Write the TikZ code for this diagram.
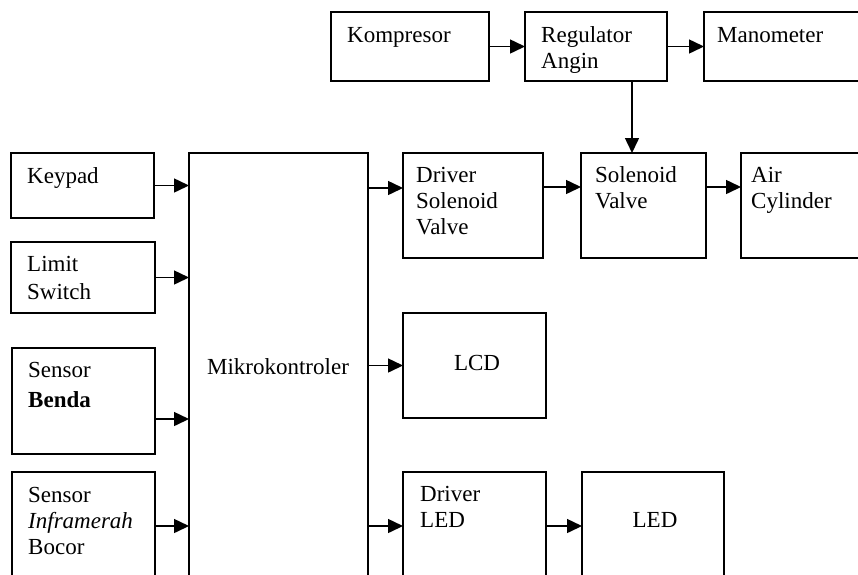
\documentclass[tikz,border=0pt]{standalone}
\usepackage{fontspec}
\setmainfont{Liberation Serif}
\usetikzlibrary{arrows.meta}
\tikzset{
  blk/.style={draw=black, line width=1.4pt, inner sep=0pt, outer sep=0pt, anchor=north west},
  lbl/.style={anchor=base west, align=left, inner sep=0pt, font={\fontsize{23}{26}\selectfont}},
  clbl/.style={anchor=center, inner sep=0pt, font={\fontsize{23}{26}\selectfont}},
  arr/.style={line width=1.5pt, -{Triangle[length=15pt,width=14pt]}}
}
\newcommand{\blkbox}[5]{\node[blk, minimum width=#4pt-#2pt, minimum height=#5pt-#3pt] (#1) at (#2,#3) {};}
\begin{document}
\begin{tikzpicture}[x=1pt,y=-1pt]
\useasboundingbox (0,0) rectangle (858,574);
\clip (0,0) rectangle (858,574);
% boxes
\blkbox{komp}{331}{12}{489}{81}
\blkbox{reg}{525}{12}{667}{81}
\blkbox{mano}{704}{12}{890}{81}
\blkbox{kp}{11}{153}{154}{218}
\blkbox{lim}{11}{242}{155}{313}
\blkbox{ben}{12}{348}{155}{454}
\blkbox{inf}{12}{472}{155}{620}
\blkbox{mk}{189}{153}{368}{620}
\blkbox{dsv}{403}{153}{543}{258}
\blkbox{sv}{581}{153}{706}{258}
\blkbox{ac}{741}{153}{900}{258}
\blkbox{lcd}{403}{313}{546}{418}
\blkbox{dled}{403}{472}{546}{620}
\blkbox{led}{582}{472}{724}{620}
% texts (anchor = baseline of the last line)
\node[lbl] (tkomp) at (347,42) {Kompresor};
\node[lbl] (treg) at (541,68) {Regulator\\Angin};
\node[lbl] (tmano) at (717,42) {Manometer};
\node[lbl] (tkp) at (27,183) {Keypad};
\node[lbl, font={\fontsize{23}{28}\selectfont}] (tlim) at (27,299) {Limit\\Switch};
\node[lbl, font={\fontsize{23}{30}\selectfont}] (tben) at (28,407) {Sensor\\\textbf{Benda}};
\node[lbl] (tinf) at (28,554) {Sensor\\\textit{Inframerah}\\Bocor};
\node[clbl] (tmk) at (278,367) {Mikrokontroler};
\node[lbl] (tdsv) at (416,234) {Driver\\Solenoid\\Valve};
\node[lbl] (tsv) at (595,208) {Solenoid\\Valve};
\node[lbl] (tac) at (751,208) {Air\\Cylinder};
\node[clbl] (tlcd) at (477,363) {LCD};
\node[lbl] (tdled) at (420,527) {Driver\\LED};
\node[clbl] (tled) at (655,520) {LED};
% helper coordinates
\path ([yshift=-18pt]ben.east) coordinate (benout);
\path ([yshift=-54pt]inf.north east) coordinate (infout);
\path ([yshift=-35pt]dsv.north west) coordinate (dsvin);
\path ([yshift=-34pt]sv.north west) coordinate (svin);
\path ([yshift=-54pt]dled.north west) coordinate (dledin);
\path ([xshift=107pt]reg.south west) coordinate (regout);
% connectors
\draw[arr] (komp.east) -- (reg.west);
\draw[arr] (reg.east) -- (mano.west);
\draw[arr] (regout) -- (regout |- sv.north);
\draw[arr] (kp.east) -- (kp.east -| mk.west);
\draw[arr] (lim.east) -- (lim.east -| mk.west);
\draw[arr] (benout) -- (benout -| mk.west);
\draw[arr] (infout) -- (infout -| mk.west);
\draw[arr] (dsvin -| mk.east) -- (dsvin);
\draw[arr] (lcd.west -| mk.east) -- (lcd.west);
\draw[arr] (dledin -| mk.east) -- (dledin);
\draw[arr] (svin -| dsv.east) -- (svin);
\draw[arr] (svin -| sv.east) -- (svin -| ac.west);
\draw[arr] (dledin -| dled.east) -- (dledin -| led.west);
\end{tikzpicture}
\end{document}
